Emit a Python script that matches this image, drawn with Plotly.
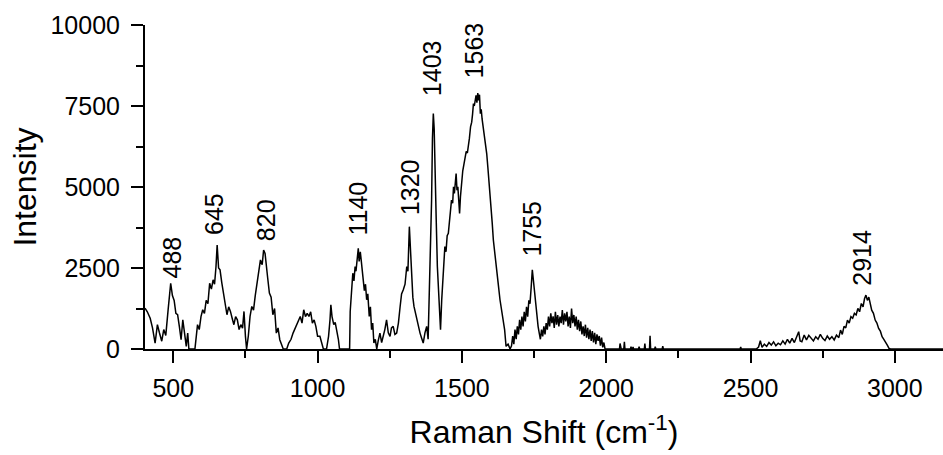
import plotly.graph_objects as go

# ---- spectrum data (Raman shift, intensity) ----
x1 = [402, 410, 420, 428, 437, 445, 452, 460, 467, 474,
      482, 491, 497, 503, 509, 515, 521, 527, 533, 539,
      545, 550, 554, 575]
y1 = [1260, 1150, 950, 650, 180, 750, 500, 240, 600, 420,
      1200, 2030, 1650, 1500, 1100, 1060, 700, 287, 900, 500,
      82, 490, 0, 0]

x2 = [578, 584, 590, 596, 602, 608, 614, 620, 626, 632,
      638, 643, 648, 652, 657, 662, 668, 674, 680, 686,
      692, 698, 704, 710, 716, 722, 728, 734, 740, 745,
      750, 754, 760, 766, 772, 778, 784, 790, 796, 802,
      808, 813, 818, 822, 827, 833, 839, 845, 851, 857,
      863, 869, 875, 881, 887, 893, 900, 908, 915, 922,
      928, 934, 940, 946, 952, 958, 964, 970, 976, 982,
      988, 994, 1000]
y2 = [300, 750, 600, 1000, 1210, 1100, 1500, 1400, 2030, 1850,
      2134, 2000, 2545, 3211, 2500, 2442, 2050, 1724, 1500, 1057,
      1300, 1160, 950, 750, 1000, 900, 600, 750, 640, 1160,
      390, 0, 400, 1005, 1313, 1200, 1650, 2030, 2300, 2750,
      2600, 3057, 2950, 2545, 2200, 1724, 1600, 1057, 1250, 490,
      650, 287, 150, 0, 0, 0, 185, 300, 490, 646,
      750, 900, 1005, 800, 1210, 1000, 1100, 1005, 1150, 800,
      900, 700, 390]

x3 = [1008, 1014, 1020, 1031, 1038, 1043, 1046, 1050, 1056, 1061,
      1066, 1072, 1076, 1108]
y3 = [390, 200, 0, 0, 390, 900, 1364, 1000, 750, 820,
      595, 300, 0, 0]

x4 = [1111, 1113, 1118, 1122, 1126, 1130, 1133, 1137, 1141, 1144,
      1148, 1151, 1155, 1158, 1162, 1166, 1170, 1174, 1179, 1183,
      1187, 1191, 1195, 1200, 1205, 1210, 1216, 1222, 1228, 1233,
      1239, 1245, 1251, 1256, 1262, 1268, 1274, 1280, 1286, 1291,
      1297, 1303, 1309, 1313, 1318, 1322, 1326, 1330, 1334, 1339,
      1343, 1348, 1355, 1360, 1366, 1372, 1378, 1383]
y4 = [0, 1160, 1900, 2340, 2100, 2545, 2400, 2900, 3108, 2700,
      3000, 2750, 2400, 2237, 1800, 2000, 1520, 1700, 1005, 1300,
      595, 800, 185, 300, 0, 250, 490, 200, 390, 600,
      900, 500, 390, 650, 700, 450, 490, 800, 1313, 1700,
      1827, 2000, 2545, 2400, 3776, 3000, 2545, 1600, 1313, 1100,
      900, 700, 490, 350, 185, 500, 700, 300]

x5 = [1387, 1391, 1395, 1398, 1401, 1404, 1408, 1411, 1415, 1420,
      1426, 1430, 1433, 1437, 1441, 1445, 1449, 1453, 1457, 1461,
      1464, 1468, 1471, 1474, 1477, 1480, 1483, 1486, 1489, 1492,
      1495, 1499, 1503, 1507, 1511, 1515, 1519, 1522, 1526, 1530,
      1534, 1537, 1540, 1543, 1546, 1549, 1552, 1555, 1558, 1561,
      1564, 1567, 1570, 1574, 1578, 1582, 1586, 1590, 1594, 1597,
      1601, 1605, 1609, 1614, 1620, 1626, 1632, 1638, 1644, 1648,
      1653, 1660, 1667]
y5 = [1520, 3000, 4597, 6500, 7264, 6800, 5622, 4000, 2545, 1500,
      595, 1500, 2030, 2800, 3160, 3000, 3500, 3570, 3900, 4300,
      4597, 4500, 5007, 4800, 5300, 5417, 4900, 5007, 4600, 4186,
      4700, 5212, 5500, 5700, 5930, 6100, 6050, 6341, 6500, 6854,
      7000, 7250, 7572, 7500, 7750, 7828, 7600, 7900, 7674, 7850,
      7264, 7400, 7100, 6854, 6600, 6300, 6033, 5600, 5200, 4802,
      4300, 3900, 3365, 2900, 2545, 2000, 1520, 1200, 900, 600,
      82, 150, 0]

x6 = [1672, 1676, 1680, 1684, 1688, 1692, 1696, 1700, 1704, 1708,
      1712, 1716, 1720, 1724, 1728, 1732, 1736, 1740, 1744, 1748,
      1752, 1756, 1760, 1764, 1768, 1772, 1776, 1780, 1784, 1788,
      1792, 1796, 1800, 1804, 1808, 1812, 1816, 1820, 1824, 1828,
      1832, 1836, 1840, 1844, 1848, 1852, 1856, 1860, 1864, 1868,
      1872, 1876, 1880, 1884, 1888, 1892, 1896, 1900, 1904, 1908,
      1912, 1916, 1920, 1924, 1928, 1932, 1936, 1940, 1944, 1948,
      1952, 1956, 1960, 1964, 1968, 1972, 1976, 1980, 1984, 1988,
      1992, 1996]
y6 = [100, 400, 150, 600, 300, 700, 450, 900, 600, 1000,
      700, 1150, 850, 1300, 1000, 1500, 1400, 1900, 2442, 2100,
      1724, 1300, 1005, 700, 490, 300, 600, 390, 700, 450,
      800, 600, 1000, 700, 1100, 800, 1005, 650, 1150, 750,
      1050, 700, 1000, 800, 1200, 750, 1100, 850, 1150, 700,
      1000, 650, 1250, 800, 1050, 700, 1000, 600, 900, 550,
      850, 450, 700, 400, 750, 350, 650, 300, 600, 250,
      550, 200, 500, 150, 450, 250, 400, 100, 350, 50,
      200, 0]

x7 = [2000, 2046, 2048, 2050, 2052, 2061, 2063, 2065, 2067, 2084,
      2086, 2088, 2091, 2093, 2095, 2112, 2114, 2116, 2132, 2134,
      2136, 2150, 2152, 2154, 2168, 2170, 2172, 2194, 2196, 2198,
      2464, 2466, 2468]
y7 = [0, 0, 170, 0, 0, 0, 225, 0, 0, 0,
      70, 0, 0, 60, 0, 0, 70, 0, 0, 170,
      0, 0, 410, 0, 0, 70, 0, 0, 90, 0,
      0, 60, 0]

x8 = [2470, 2500, 2520, 2528, 2534, 2540, 2548, 2556, 2564, 2572,
      2580, 2588, 2596, 2604, 2612, 2620, 2628, 2636, 2644, 2652,
      2660, 2667, 2672, 2678, 2686, 2694, 2702, 2710, 2718, 2726,
      2734, 2742, 2750, 2758, 2766, 2774, 2782, 2790, 2798, 2806,
      2812, 2818, 2824, 2830, 2836, 2842, 2848, 2854, 2860, 2866,
      2872, 2878, 2884, 2890, 2895, 2900, 2905, 2910, 2915, 2920,
      2926, 2932, 2938, 2944, 2950, 2956, 2962, 2968, 2974, 2980,
      2985, 3170]
y8 = [0, 0, 0, 60, 256, 50, 150, 80, 200, 120,
      220, 100, 180, 130, 250, 150, 300, 180, 328, 200,
      400, 533, 250, 225, 430, 280, 420, 328, 250, 380,
      300, 450, 328, 260, 400, 300, 380, 280, 430, 350,
      585, 450, 700, 650, 893, 800, 1000, 950, 1098, 1050,
      1252, 1150, 1405, 1300, 1550, 1662, 1500, 1600, 1350, 1200,
      1100, 893, 800, 636, 550, 380, 300, 225, 120, 20,
      0, 0]

# peak labels: text, x position, y position (bottom of rotated text)
peak_labels = ["488", "645", "820", "1140", "1320", "1403", "1563", "1755", "2914"]
peak_label_x = [494, 639, 824, 1141, 1318, 1395, 1542, 1744, 2885]
peak_label_y = [2100, 3470, 3260, 3450, 4080, 7730, 8290, 2800, 1880]

x_ticks = [500, 1000, 1500, 2000, 2500, 3000]
y_ticks = [0, 2500, 5000, 7500, 10000]

raman_shift = x1 + x2 + x3 + x4 + x5 + x6 + x7 + x8
intensity = y1 + y2 + y3 + y4 + y5 + y6 + y7 + y8

FONT = "Arial, Liberation Sans, sans-serif"

fig = go.Figure()
fig.add_trace(go.Scatter(
    x=raman_shift, y=intensity, mode="lines",
    line=dict(color="black", width=1.5),
    showlegend=False, hoverinfo="skip",
))

for txt, px, py in zip(peak_labels, peak_label_x, peak_label_y):
    fig.add_annotation(
        x=px, y=py, text=txt, textangle=-90, showarrow=False,
        xanchor="center", yanchor="bottom",
        font=dict(family=FONT, size=25, color="black"),
    )

fig.update_layout(
    width=943, height=455,
    margin=dict(l=145, r=0, t=25, b=106),
    paper_bgcolor="white", plot_bgcolor="white",
    font=dict(family=FONT, color="black"),
)

fig.update_xaxes(
    range=[402, 3167],
    tickvals=x_ticks, ticktext=[str(v) for v in x_ticks],
    showline=True, linecolor="black", linewidth=2,
    ticks="outside", ticklen=12, tickwidth=2, tickcolor="black",
    minor=dict(ticks="outside", ticklen=7, tickwidth=2, tickcolor="black", dtick=250, tick0=0),
    showgrid=False, zeroline=False, mirror=False,
    tickfont=dict(family=FONT, size=25, color="black"),
    ticklabelstandoff=4,
    title=dict(text="Raman Shift (cm<sup>-1</sup>)", font=dict(family=FONT, size=32, color="black"), standoff=20),
)

fig.update_yaxes(
    range=[0, 10000],
    tickvals=y_ticks, ticktext=[str(v) for v in y_ticks],
    showline=True, linecolor="black", linewidth=2,
    ticks="outside", ticklen=12, tickwidth=2, tickcolor="black",
    minor=dict(ticks="outside", ticklen=7, tickwidth=2, tickcolor="black", dtick=1250, tick0=0),
    showgrid=False, zeroline=False, mirror=False,
    tickfont=dict(family=FONT, size=25, color="black"),
    ticklabelstandoff=6,
    title=dict(text="Intensity", font=dict(family=FONT, size=32, color="black"), standoff=4),
)

fig.write_html("out.html")
